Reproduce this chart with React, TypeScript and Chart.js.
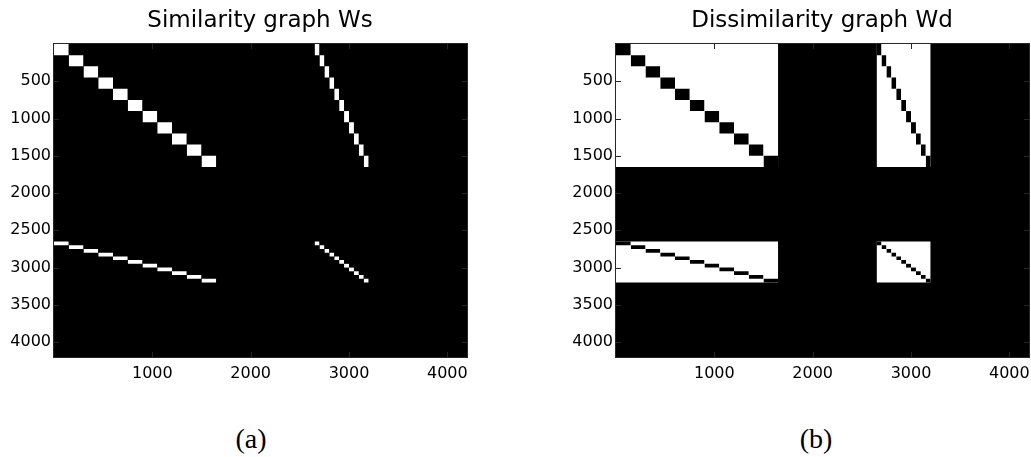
import React, { useEffect, useRef } from "react";
import { Chart, registerables } from "chart.js";

Chart.register(...registerables);

// ---- data ----
const nodeCount = 4200;
// group A: 11 classes of ~150 nodes each
const groupAEdges = [0, 150, 300, 450, 600, 750, 900, 1050, 1200, 1350, 1500, 1650];
// group B: 11 classes of ~50 nodes each
const groupBEdges = [2650, 2700, 2750, 2800, 2850, 2900, 2950, 3000, 3050, 3100, 3150, 3200];
const xTickValues = [1000, 2000, 3000, 4000];
const yTickValues = [500, 1000, 1500, 2000, 2500, 3000, 3500, 4000];
const panelTitles = ["Similarity graph Ws", "Dissimilarity graph Wd"];
const panelCaptions = ["(a)", "(b)"];

// ---- layout / style ----
const CANVAS_W = 500;
const CANVAS_H = 400;
const PANEL_LEFT = [0, 562];
const TITLE_CENTER = [260, 822];
const CAPTION_CENTER = [251, 816];
const SANS = "'DejaVu Sans', sans-serif";

type Seg = { start: number; end: number; cls: number };

function toSegments(edges: number[]): Seg[] {
  return edges.slice(0, -1).map((s, i) => ({ start: s, end: edges[i + 1], cls: i }));
}

const segsA = toSegments(groupAEdges);
const segsB = toSegments(groupBEdges);
const allSegs = [...segsA, ...segsB];

function rectDataset(x0: number, x1: number, y0: number, y1: number, color: string, order: number) {
  return {
    data: [
      { x: x0, y: y1 },
      { x: x1, y: y1 },
    ],
    showLine: true,
    borderWidth: 0,
    borderColor: "rgba(0,0,0,0)",
    backgroundColor: color,
    pointRadius: 0,
    pointHoverRadius: 0,
    fill: { value: y0 },
    order,
  };
}

function similarityDatasets() {
  const out: any[] = [];
  for (const sx of allSegs) {
    for (const sy of allSegs) {
      if (sx.cls === sy.cls) out.push(rectDataset(sx.start, sx.end, sy.start, sy.end, "#ffffff", 1));
    }
  }
  return out;
}

function dissimilarityDatasets() {
  const out: any[] = [];
  const groups = [groupAEdges, groupBEdges];
  for (const gx of groups) {
    for (const gy of groups) {
      out.push(rectDataset(gx[0], gx[gx.length - 1], gy[0], gy[gy.length - 1], "#ffffff", 2));
    }
  }
  for (const sx of allSegs) {
    for (const sy of allSegs) {
      if (sx.cls === sy.cls) out.push(rectDataset(sx.start, sx.end, sy.start, sy.end, "#000000", 1));
    }
  }
  return out;
}

const framePlugin = {
  id: "matlabFrame",
  beforeDatasetsDraw(chart: any) {
    const { ctx, chartArea } = chart;
    const { left, top, right, bottom } = chartArea;
    ctx.save();
    ctx.fillStyle = "#000000";
    ctx.fillRect(left, top, right - left, bottom - top);
    ctx.restore();
  },
  afterDatasetsDraw(chart: any) {
    const { ctx, chartArea, scales } = chart;
    const { left, top, right, bottom } = chartArea;
    const tl = 5;
    ctx.save();
    ctx.strokeStyle = "#262626";
    ctx.lineWidth = 1;
    ctx.beginPath();
    for (const v of xTickValues) {
      const px = Math.round(scales.x.getPixelForValue(v)) + 0.5;
      ctx.moveTo(px, top);
      ctx.lineTo(px, top + tl);
      ctx.moveTo(px, bottom);
      ctx.lineTo(px, bottom - tl);
    }
    for (const v of yTickValues) {
      const py = Math.round(scales.y.getPixelForValue(v)) + 0.5;
      ctx.moveTo(left, py);
      ctx.lineTo(left + tl, py);
      ctx.moveTo(right, py);
      ctx.lineTo(right - tl, py);
    }
    ctx.stroke();
    ctx.strokeRect(left - 0.5, top - 0.5, right - left + 1, bottom - top + 1);
    ctx.restore();
  },
};

const plainLabel = (value: any) => String(value);

function makeConfig(datasets: any[]): any {
  return {
    type: "line",
    data: { datasets },
    options: {
      animation: false,
      responsive: false,
      maintainAspectRatio: false,
      events: [],
      layout: { padding: { left: 0, top: 44, right: 33, bottom: 13 } },
      plugins: {
        legend: { display: false },
        tooltip: { enabled: false },
        title: { display: false },
      },
      scales: {
        x: {
          type: "linear",
          min: 0,
          max: nodeCount,
          grid: { display: false, drawTicks: false },
          border: { display: false },
          afterBuildTicks: (s: any) => {
            s.ticks = xTickValues.map((v) => ({ value: v }));
          },
          afterFit: (s: any) => {
            s.height = 30;
          },
          ticks: {
            color: "#000000",
            font: { family: SANS, size: 16 },
            padding: 7,
            maxRotation: 0,
            autoSkip: false,
            callback: plainLabel,
          },
        },
        y: {
          type: "linear",
          reverse: true,
          min: 0,
          max: nodeCount,
          grid: { display: false, drawTicks: false },
          border: { display: false },
          afterBuildTicks: (s: any) => {
            s.ticks = yTickValues.map((v) => ({ value: v }));
          },
          afterFit: (s: any) => {
            s.width = 54;
          },
          ticks: {
            color: "#000000",
            font: { family: SANS, size: 16 },
            padding: 3,
            autoSkip: false,
            callback: plainLabel,
          },
        },
      },
    },
    plugins: [framePlugin],
  };
}

export default function App() {
  const leftRef = useRef<HTMLCanvasElement | null>(null);
  const rightRef = useRef<HTMLCanvasElement | null>(null);

  useEffect(() => {
    const charts: Chart[] = [];
    if (leftRef.current) charts.push(new Chart(leftRef.current, makeConfig(similarityDatasets())));
    if (rightRef.current) charts.push(new Chart(rightRef.current, makeConfig(dissimilarityDatasets())));
    return () => charts.forEach((c) => c.destroy());
  }, []);

  const refs = [leftRef, rightRef];

  return (
    <div
      style={{
        position: "absolute",
        left: 0,
        top: 0,
        width: 1031,
        height: 457,
        overflow: "hidden",
        background: "#ffffff",
      }}
    >
      {[0, 1].map((i) => (
        <React.Fragment key={i}>
          <canvas
            ref={refs[i]}
            width={CANVAS_W}
            height={CANVAS_H}
            style={{ position: "absolute", left: PANEL_LEFT[i], top: 0, width: CANVAS_W, height: CANVAS_H, display: "block" }}
          />
          <div
            style={{
              position: "absolute",
              left: TITLE_CENTER[i] - 200,
              width: 400,
              top: 8,
              textAlign: "center",
              fontFamily: SANS,
              fontSize: 23,
              lineHeight: "23px",
              color: "#000000",
              whiteSpace: "nowrap",
            }}
          >
            {panelTitles[i]}
          </div>
          <div
            style={{
              position: "absolute",
              left: CAPTION_CENTER[i] - 50,
              width: 100,
              top: 425,
              textAlign: "center",
              fontFamily: "'Liberation Serif', serif",
              fontSize: 28,
              lineHeight: "28px",
              color: "#000000",
            }}
          >
            {panelCaptions[i]}
          </div>
        </React.Fragment>
      ))}
    </div>
  );
}
